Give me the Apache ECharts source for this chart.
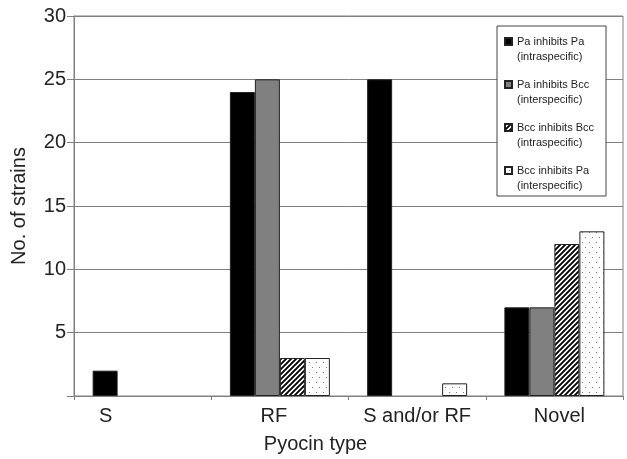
<!DOCTYPE html>
<html>
<head>
<meta charset="utf-8">
<script src="https://cdn.jsdelivr.net/npm/echarts@6/dist/echarts.min.js"></script>
<style>
html,body{margin:0;padding:0;background:#fff;}
#chart{width:627px;height:459px;}
</style>
</head>
<body>
<div id="chart"></div>
<script>
// ---- data ----
var categories = ['S', 'RF', 'S and/or RF', 'Novel'];
var seriesNames = [
  'Pa inhibits Pa\n(intraspecific)',
  'Pa inhibits Bcc\n(interspecific)',
  'Bcc inhibits Bcc\n(intraspecific)',
  'Bcc inhibits Pa\n(interspecific)'
];
var paInhibitsPa = [2, 24, 25, 7];
var paInhibitsBcc = [0, 25, 0, 7];
var bccInhibitsBcc = [0, 3, 0, 12];
var bccInhibitsPa = [0, 3, 1, 13];

// ---- fill patterns ----
function hatchPattern() {
  var c = document.createElement('canvas');
  c.width = 5; c.height = 5;
  var g = c.getContext('2d');
  g.fillStyle = '#ffffff'; g.fillRect(0, 0, 5, 5);
  g.strokeStyle = '#000000'; g.lineWidth = 1.9;
  g.beginPath();
  g.moveTo(-1, 6); g.lineTo(6, -1);
  g.moveTo(-1, 1); g.lineTo(1, -1);
  g.moveTo(4, 6); g.lineTo(6, 4);
  g.stroke();
  return c;
}
function dotPattern() {
  var c = document.createElement('canvas');
  c.width = 7; c.height = 10;
  var g = c.getContext('2d');
  g.fillStyle = '#ffffff'; g.fillRect(0, 0, 7, 10);
  g.fillStyle = '#777777';
  g.fillRect(1, 2, 1, 1);
  g.fillRect(4, 7, 1, 1);
  return c;
}

var FONT = '"Liberation Sans", Arial, Helvetica, sans-serif';
// square icon aligned with the first text line of a two-line legend entry
var legendIcon = 'path://M0,0L0.01,0 M0,4L7,4L7,11L0,11Z M7,31L7,31.01';

function barSeries(name, data, fill) {
  return {
    name: name,
    type: 'bar',
    data: data.map(function (v) {
      return v === 0 ? { value: 0, itemStyle: { borderWidth: 0 } } : v;
    }),
    barWidth: 25,
    barGap: '0%',
    itemStyle: { color: fill, borderColor: '#222', borderWidth: 1 },
    emphasis: { disabled: true }
  };
}

var chart = echarts.init(document.getElementById('chart'));
chart.setOption({
  animation: false,
  textStyle: { fontFamily: FONT },
  grid: {
    left: 74, right: 4, top: 16, bottom: 63,
    show: true, borderColor: '#808080', borderWidth: 1
  },
  legend: {
    orient: 'vertical',
    left: 497, top: 26,
    padding: [7, 12, 1, 7],
    itemGap: 10,
    itemWidth: 7, itemHeight: 31,
    icon: legendIcon,
    backgroundColor: '#fff',
    borderColor: '#444', borderWidth: 1,
    selectedMode: false,
    textStyle: { fontSize: 11, lineHeight: 15.5, color: '#222', fontFamily: FONT },
    data: seriesNames
  },
  xAxis: {
    type: 'category',
    data: categories,
    z: 5,
    axisLine: { lineStyle: { color: '#808080', width: 1 } },
    axisTick: { show: true, length: 4, lineStyle: { color: '#808080' } },
    axisLabel: {
      interval: 0,
      fontSize: 20, color: '#222', margin: 10, fontFamily: FONT,
      formatter: function (v) {
        if (v === 'S') return '{s|S}';
        if (v === 'RF') return '{rf|RF}';
        if (v === 'Novel') return '{nv|Novel}';
        return v;
      },
      rich: {
        s: { fontSize: 20, color: '#222', fontFamily: FONT, padding: [0, 74, 0, 0] },
        rf: { fontSize: 20, color: '#222', fontFamily: FONT, padding: [0, 12, 0, 0] },
        nv: { fontSize: 20, color: '#222', fontFamily: FONT, padding: [0, 0, 0, 10] }
      }
    },
    name: 'Pyocin type',
    nameLocation: 'middle',
    nameGap: 38,
    nameTextStyle: { fontSize: 20, color: '#222', fontFamily: FONT, padding: [0, 66, 0, 0] }
  },
  yAxis: {
    type: 'value',
    min: 0, max: 30, interval: 5,
    axisLine: { show: true, lineStyle: { color: '#808080', width: 1 } },
    axisTick: { show: true, length: 7, lineStyle: { color: '#808080' } },
    splitLine: { show: true, lineStyle: { color: '#808080', width: 1 } },
    axisLabel: {
      fontSize: 20, color: '#222', margin: 8, fontFamily: FONT,
      formatter: function (v) { return v === 0 ? '' : String(v); }
    },
    name: 'No. of strains',
    nameLocation: 'middle',
    nameGap: 45,
    nameTextStyle: { fontSize: 20, color: '#222', fontFamily: FONT }
  },
  series: [
    barSeries(seriesNames[0], paInhibitsPa, '#000000'),
    barSeries(seriesNames[1], paInhibitsBcc, '#808080'),
    barSeries(seriesNames[2], bccInhibitsBcc, { image: hatchPattern(), repeat: 'repeat' }),
    barSeries(seriesNames[3], bccInhibitsPa, { image: dotPattern(), repeat: 'repeat' })
  ]
});
</script>
</body>
</html>
